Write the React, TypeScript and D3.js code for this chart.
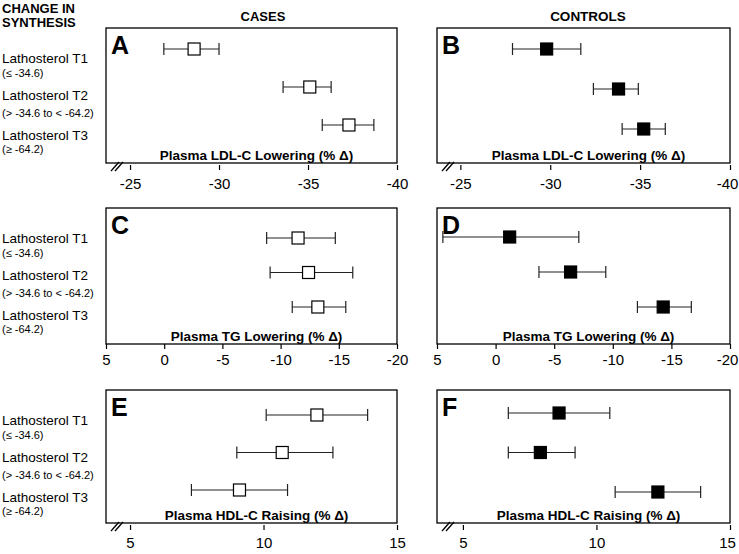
import React, { useEffect, useRef } from 'react';
import * as d3 from 'd3';

// tertiles of change in synthesis
const groups = ['Lathosterol T1', 'Lathosterol T2', 'Lathosterol T3'];
const groupRanges = ['(≤ -34.6)', '(> -34.6 to < -64.2)', '(≥ -64.2)'];

// [mean, lower CI, upper CI] per tertile, % change
const casesLdl = [[-28.6, -26.9, -30.0], [-35.1, -33.6, -36.3], [-37.3, -35.8, -38.7]];
const controlsLdl = [[-29.8, -27.9, -31.7], [-33.8, -32.4, -34.9], [-35.2, -34.0, -36.4]];
const casesTg = [[-11.5, -8.8, -14.7], [-12.4, -9.1, -16.2], [-13.2, -11.0, -15.6]];
const controlsTg = [[-1.2, 4.5, -7.1], [-6.4, -3.7, -9.4], [-14.3, -12.1, -16.7]];
const casesHdl = [[12.0, 10.1, 13.9], [10.7, 9.0, 12.6], [9.1, 7.3, 10.9]];
const controlsHdl = [[8.6, 6.7, 10.5], [7.9, 6.7, 9.2], [12.3, 10.7, 13.9]];

const ldlTicks = [-25, -30, -35, -40];
const tgTicks = [5, 0, -5, -10, -15, -20];
const hdlTicks = [5, 10, 15];

const FONT = "'Liberation Sans', Arial, Helvetica, sans-serif";

const cols = [{ x0: 106, x1: 397 }, { x0: 437, x1: 730 }];
const rows = [{ y0: 28, y1: 163 }, { y0: 208, y1: 344 }, { y0: 390, y1: 523 }];

const panels = [
  { id: 'A', col: 0, row: 0, data: casesLdl, filled: false, domain: [-23.65, -40], ticks: ldlTicks, brk: true, pad: 8, rowRange: [21, 97], title: 'Plasma LDL-C Lowering (% Δ)' },
  { id: 'B', col: 1, row: 0, data: controlsLdl, filled: true, domain: [-23.7, -40], ticks: ldlTicks, brk: true, pad: 8, rowRange: [21, 101], title: 'Plasma LDL-C Lowering (% Δ)' },
  { id: 'C', col: 0, row: 1, data: casesTg, filled: false, domain: [5, -20], ticks: tgTicks, brk: false, pad: 5.5, rowRange: [30, 99], title: 'Plasma TG Lowering (% Δ)' },
  { id: 'D', col: 1, row: 1, data: controlsTg, filled: true, domain: [5, -20], ticks: tgTicks, brk: false, pad: 5.5, rowRange: [29, 99], title: 'Plasma TG Lowering (% Δ)' },
  { id: 'E', col: 0, row: 2, data: casesHdl, filled: false, domain: [4.1, 15], ticks: hdlTicks, brk: true, pad: 7, rowRange: [25, 100], title: 'Plasma HDL-C Raising (% Δ)' },
  { id: 'F', col: 1, row: 2, data: controlsHdl, filled: true, domain: [4.03, 15], ticks: hdlTicks, brk: true, pad: 7, rowRange: [23, 102], title: 'Plasma HDL-C Raising (% Δ)' },
];

export default function App() {
  const ref = useRef<SVGSVGElement>(null);

  useEffect(() => {
    const svg = d3.select(ref.current);
    svg.selectAll('*').remove();
    svg.append('rect').attr('width', 739).attr('height', 554).attr('fill', '#fff');

    // header texts
    svg.append('text').attr('x', 2).attr('y', 13).text('CHANGE IN')
      .attr('font-size', 13).attr('font-weight', 'bold');
    svg.append('text').attr('x', 2).attr('y', 27).text('SYNTHESIS')
      .attr('font-size', 13).attr('font-weight', 'bold');
    svg.append('text').attr('x', 263).attr('y', 21).attr('text-anchor', 'middle').text('CASES')
      .attr('font-size', 13).attr('font-weight', 'bold');
    svg.append('text').attr('x', 588).attr('y', 21).attr('text-anchor', 'middle').text('CONTROLS')
      .attr('font-size', 13.5).attr('font-weight', 'bold');

    // row labels on the left
    rows.forEach(r => {
      const lab = svg.append('g');
      const main = [35, 72, 112];
      const sub = [49, 89, 125];
      groups.forEach((g, i) => {
        lab.append('text').attr('x', 2).attr('y', r.y0 + main[i]).text(g).attr('font-size', 13.5);
        lab.append('text').attr('x', 2).attr('y', r.y0 + sub[i]).text(groupRanges[i]).attr('font-size', 11);
      });
    });

    panels.forEach(p => {
      const { x0, x1 } = cols[p.col];
      const { y0, y1 } = rows[p.row];
      const g = svg.append('g');
      const x = d3.scaleLinear().domain(p.domain).range([x0, x1]);
      const y = d3.scalePoint<string>().domain(groups).range([y0 + p.rowRange[0], y0 + p.rowRange[1]]);

      g.append('rect').attr('x', x0).attr('y', y0).attr('width', x1 - x0).attr('height', y1 - y0)
        .attr('fill', 'none').attr('stroke', '#000').attr('stroke-width', 1.3);

      // axis (ticks only, the box draws the line)
      const gap = p.brk ? 2 : 0;
      const ax = g.append('g').attr('transform', `translate(0,${y1 + gap})`)
        .call(d3.axisBottom(x).tickValues(p.ticks).tickSize(5).tickPadding(p.pad).tickFormat(d => String(d)));
      ax.select('.domain').remove();
      ax.selectAll('line').attr('stroke', '#000').attr('stroke-width', 1.2);
      ax.selectAll('text').attr('font-size', 15).attr('font-family', FONT).attr('fill', '#000');
      // keep the right-most label inside the page
      if (p.col === 1) ax.selectAll<SVGTextElement, number>('text').filter((d, i, n) => i === n.length - 1).attr('dx', -3);

      if (p.brk) {
        [0, 4].forEach(k => {
          g.append('line').attr('x1', x0 + 5 + k).attr('y1', y1 + 8).attr('x2', x0 + 13 + k).attr('y2', y1 - 1)
            .attr('stroke', '#000').attr('stroke-width', 1.3);
        });
      }

      // panel letter
      g.append('text').attr('x', x0 + 5).attr('y', y0 + 26).text(p.id)
        .attr('font-size', 25).attr('font-weight', 'bold');

      // axis title
      g.append('text').attr('x', (x0 + x1) / 2 + 5).attr('y', y1 - 3).attr('text-anchor', 'middle')
        .text(p.title).attr('font-size', 13.5).attr('font-weight', 'bold');

      // error bars and markers
      p.data.forEach((d, i) => {
        const cy = y(groups[i]) as number;
        g.append('line').attr('x1', x(d[1])).attr('x2', x(d[2])).attr('y1', cy).attr('y2', cy)
          .attr('stroke', '#222').attr('stroke-width', 1.2);
        [d[1], d[2]].forEach(v => {
          g.append('line').attr('x1', x(v)).attr('x2', x(v)).attr('y1', cy - 6).attr('y2', cy + 6)
            .attr('stroke', '#222').attr('stroke-width', 1.2);
        });
        g.append('rect').attr('x', x(d[0]) - 6).attr('y', cy - 6).attr('width', 12).attr('height', 12)
          .attr('fill', p.filled ? '#000' : '#fff').attr('stroke', '#000').attr('stroke-width', 1.2);
      });
    });

    svg.selectAll('text').attr('font-family', FONT).attr('fill', '#000');
  }, []);

  return (
    <svg ref={ref} width={739} height={554}
      style={{ position: 'absolute', left: 0, top: 0, display: 'block' }} />
  );
}
